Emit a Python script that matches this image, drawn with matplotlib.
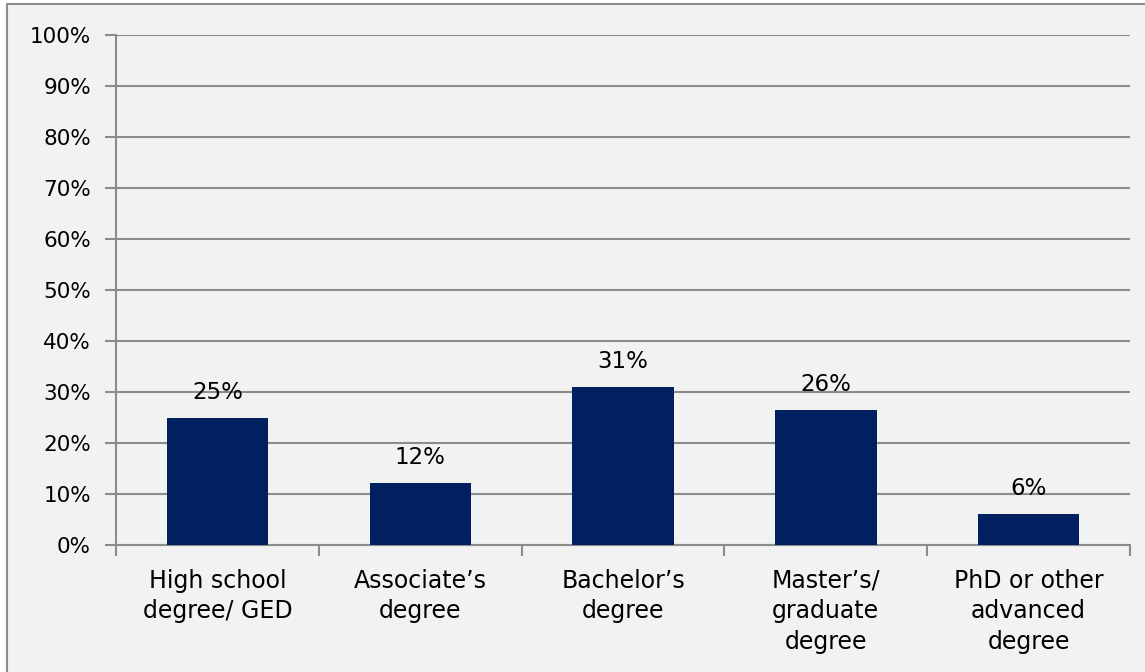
import matplotlib.pyplot as plt
from matplotlib.patches import Rectangle
import numpy as np

categories = ["High school\ndegree/ GED", "Associate\u2019s\ndegree", "Bachelor\u2019s\ndegree",
              "Master\u2019s/\ngraduate\ndegree", "PhD or other\nadvanced\ndegree"]
shares = [25.0, 12.1, 31.0, 26.4, 6.1]
yticks = np.arange(0, 101, 10)

plt.rcParams['font.family'] = ['DejaVu Sans']
fig = plt.figure(figsize=(11.45, 6.72), dpi=100, facecolor='white')

# framed panel behind the chart
fig.patches.append(Rectangle((7 / 1145, -0.05), 1.1, 1.05 - 4 / 672,
                             transform=fig.transFigure, facecolor='#f2f2f2',
                             edgecolor='#8c8c8c', linewidth=1.5, zorder=-10))

ax = fig.add_axes([116 / 1145, 1 - 545 / 672, (1130 - 116) / 1145, (545 - 35) / 672])
ax.set_facecolor('none')
ax.set_zorder(5)

x = np.arange(len(categories))
ax.bar(x, shares, width=0.5, color='#002060', zorder=3)
for xi, v in zip(x, shares):
    ax.annotate(f"{v:.0f}%", (xi, v), xytext=(0, 10), textcoords='offset points',
                ha='center', va='bottom', fontsize=16.5, color='#000000', zorder=4)

ax.set_xlim(-0.5, len(categories) - 0.5)
ax.set_ylim(0, 100)
ax.set_yticks(yticks)
ax.set_yticklabels([f"{t}%" for t in yticks], fontsize=15.5, color='#000000')
ax.yaxis.grid(True, color='#8c8c8c', linewidth=1.5, zorder=0)

# category labels centred, tick marks at category boundaries
ax.set_xticks(x)
ax.set_xticklabels(categories, fontsize=17, color='#000000', linespacing=1.35)
ax.tick_params(axis='x', which='major', length=0, pad=17)
ax.set_xticks(np.arange(-0.5, len(categories)), minor=True)
ax.tick_params(axis='x', which='minor', length=8, width=1.5, color='#8c8c8c')
ax.tick_params(axis='y', length=8, width=1.5, color='#8c8c8c', pad=10)

for side in ['top', 'right']:
    ax.spines[side].set_visible(False)
for side in ['left', 'bottom']:
    ax.spines[side].set_color('#8c8c8c')
    ax.spines[side].set_linewidth(1.5)

fig.savefig('out.png', dpi=100)
